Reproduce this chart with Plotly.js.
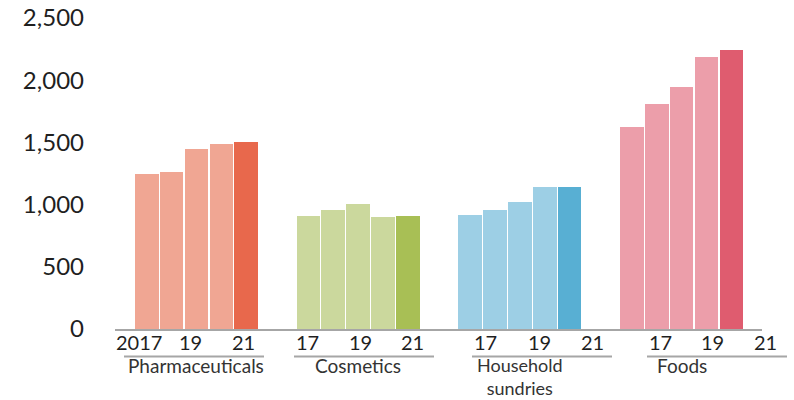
<!DOCTYPE html>
<html>
<head>
<meta charset="utf-8">
<script src="https://cdn.plot.ly/plotly-3.0.1.min.js"></script>
<style>html,body{margin:0;padding:0;background:#fff;}#chart{width:794px;height:400px;}</style>
</head>
<body>
<div id="chart"></div>
<script>
// ---- data ----
const categories = ["Pharmaceuticals", "Cosmetics", "Household<br>sundries", "Foods"];
const years = ["2017", "2018", "2019", "2020", "2021"];
const pharmaceuticals = [1250, 1265, 1450, 1485, 1500];
const cosmetics = [905, 955, 1005, 900, 905];
const household = [920, 960, 1020, 1140, 1145];
const foods = [1620, 1805, 1945, 2185, 2245];
const tickLabels = ["2017", "19", "21", "17", "19", "21", "17", "19", "21", "17", "19", "21"];
const yTickVals = [0, 500, 1000, 1500, 2000, 2500];

// ---- layout helpers (pixels of the 794x400 page) ----
const W = 794, H = 400;
const L = 115, R = 762, T = 18, B = 329;
const px2x = p => (p - L) / (R - L);
const px2y = p => (B - p) / (B - T);
const groupGap = 6.5;
const series = [pharmaceuticals, cosmetics, household, foods];
const light = ["#F0A693", "#CBD89D", "#9DCFE5", "#EC9EAA"];
const dark = ["#E8684C", "#A8BF55", "#58AFD3", "#DF5C6F"];

const traces = series.map((vals, g) => ({
  type: "bar",
  x: vals.map((v, i) => g * groupGap + i),
  y: vals,
  width: 0.95,
  marker: { color: vals.map((v, i) => i === vals.length - 1 ? dark[g] : light[g]) },
  text: years, hoverinfo: "y",
  textposition: "none",
  showlegend: false
}));

// tick label pixel centers (as in the reference)
const tickPx = [138.7, 190.8, 243.3, 307.5, 360.8, 412.8, 485.5, 539, 592.5, 660.2, 712.8, 765.3];
const underlinePx = [[124, 264], [294, 434], [472, 612], [647, 787]];

const annotations = [];
tickLabels.forEach((t, k) => annotations.push({
  xref: "paper", yref: "paper", x: px2x(tickPx[k]), y: px2y(342),
  text: t, showarrow: false, xanchor: "center", yanchor: "middle",
  font: { family: "Lato, sans-serif", size: 20, color: "#1f1f1f" }
}));
categories.forEach((c, g) => annotations.push({
  xref: "x", yref: "paper", x: g * groupGap + 2, y: px2y(353),
  text: c, showarrow: false, xanchor: "center", yanchor: "top",
  borderpad: 0,
  font: { family: "Lato, sans-serif", size: c.indexOf("<br>") >= 0 ? 18 : 19, color: "#333333" }
}));

const shapes = underlinePx.map(([a, b]) => ({
  type: "line", xref: "paper", yref: "paper",
  x0: px2x(a), x1: px2x(b), y0: px2y(356.5), y1: px2y(356.5),
  line: { color: "#A6A6A6", width: 2 }
}));

const xmin = -(146.7 - L) / 24.88;
const layout = {
  width: W, height: H,
  margin: { l: L, r: W - R, t: T, b: H - B },
  paper_bgcolor: "#ffffff", plot_bgcolor: "#ffffff",
  bargap: 0,
  xaxis: {
    range: [xmin, xmin + (R - L) / 24.88],
    showticklabels: false, showgrid: false, zeroline: false,
    showline: true, linecolor: "#A6A6A6", linewidth: 2, fixedrange: true
  },
  yaxis: {
    range: [0, 2500], tickvals: yTickVals, tickformat: ",d",
    showgrid: false, zeroline: false, showline: false, ticks: "",
    ticklabelstandoff: 30,
    tickfont: { family: "Lato, sans-serif", size: 24, color: "#1f1f1f" },
    fixedrange: true
  },
  annotations: annotations,
  shapes: shapes
};
Plotly.newPlot("chart", traces, layout, { displayModeBar: false, staticPlot: true });
</script>
</body>
</html>
